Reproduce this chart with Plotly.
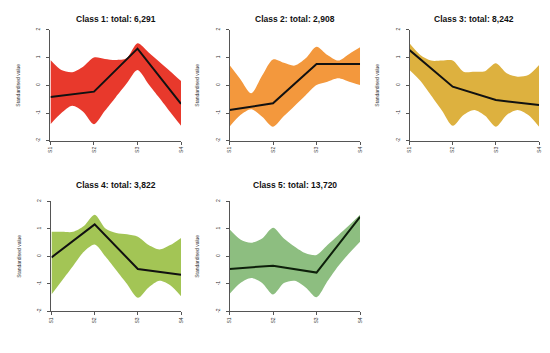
import plotly.graph_objects as go

# Sample labels
samples = ["S1", "S2", "S3", "S4"]
sample_pos = [1, 2, 3, 4]
# Envelope read at quarter steps between samples
env_pos = [1, 1.25, 1.5, 1.75, 2, 2.25, 2.5, 2.75, 3, 3.25, 3.5, 3.75, 4]

titles = ["Class 1: total: 6,291", "Class 2: total: 2,908", "Class 3: total: 8,242",
          "Class 4: total: 3,822", "Class 5: total: 13,720"]

mean_c1 = [-0.42, -0.23, 1.32, -0.67]
upper_c1 = [0.91, 0.55, 0.47, 0.67, 1.0, 0.95, 0.91, 0.97, 1.51, 1.19, 0.85, 0.51, 0.15]
lower_c1 = [-1.40, -1.0, -0.74, -0.95, -1.40, -0.92, -0.43, 0.06, 0.55, 0.05, -0.45, -0.96, -1.46]

mean_c2 = [-0.89, -0.65, 0.77, 0.77]
upper_c2 = [0.73, 0.22, -0.29, 0.35, 0.93, 0.81, 0.71, 0.97, 1.39, 1.09, 0.89, 1.13, 1.37]
lower_c2 = [-1.49, -1.07, -0.86, -1.13, -1.49, -1.11, -0.74, -0.36, 0.01, 0.13, 0.25, 0.13, 0.01]

mean_c3 = [1.27, -0.05, -0.53, -0.71]
upper_c3 = [1.51, 1.09, 0.89, 0.89, 0.89, 0.49, 0.49, 0.51, 0.79, 0.43, 0.31, 0.37, 0.73]
lower_c3 = [0.55, 0.16, -0.37, -0.91, -1.46, -1.07, -0.89, -1.10, -1.49, -1.07, -0.89, -1.07, -1.49]

mean_c4 = [-0.04, 1.16, -0.46, -0.67]
upper_c4 = [0.89, 0.89, 0.89, 1.10, 1.51, 1.01, 0.85, 0.80, 0.71, 0.41, 0.25, 0.41, 0.67]
lower_c4 = [-1.39, -0.87, -0.35, 0.17, 0.43, -0.01, -0.51, -1.01, -1.51, -1.13, -0.89, -1.05, -1.45]

mean_c5 = [-0.46, -0.34, -0.59, 1.43]
upper_c5 = [0.98, 0.61, 0.49, 0.65, 1.04, 0.65, 0.35, 0.11, 0.05, 0.41, 0.77, 1.13, 1.51]
lower_c5 = [-1.37, -0.97, -0.79, -0.97, -1.39, -0.97, -0.89, -1.13, -1.49, -0.91, -0.35, 0.11, 0.53]

means = [mean_c1, mean_c2, mean_c3, mean_c4, mean_c5]
uppers = [upper_c1, upper_c2, upper_c3, upper_c4, upper_c5]
lowers = [lower_c1, lower_c2, lower_c3, lower_c4, lower_c5]
fills = ["#E8392C", "#F3983D", "#DDB13F", "#A3C555", "#8DBE80"]
line_cols = ["#111111", "#111111", "#111111", "#111111", "#0d1f0a"]

W, H = 550, 353
# pixel boxes (left, right, top, bottom, title offset)
boxes = [(48, 180, 28, 140, 11), (229, 361, 28, 140, 11), (411, 542, 28, 140, 11),
         (49, 180, 201, 312, 16), (229, 361, 201, 312, 16)]

fig = go.Figure()
layout = dict(width=W, height=H, margin=dict(l=0, r=0, t=0, b=0),
              paper_bgcolor="white", plot_bgcolor="white", showlegend=False)
annotations = []

for i in range(5):
    xa = "x" if i == 0 else f"x{i+1}"
    ya = "y" if i == 0 else f"y{i+1}"
    fig.add_trace(go.Scatter(x=env_pos, y=lowers[i], mode="lines",
                             line=dict(width=0, shape="spline", smoothing=0.8, color=fills[i]),
                             xaxis=xa, yaxis=ya, hoverinfo="skip"))
    fig.add_trace(go.Scatter(x=env_pos, y=uppers[i], mode="lines", fill="tonexty",
                             fillcolor=fills[i],
                             line=dict(width=0, shape="spline", smoothing=0.8, color=fills[i]),
                             xaxis=xa, yaxis=ya, hoverinfo="skip"))
    fig.add_trace(go.Scatter(x=sample_pos, y=means[i], mode="lines",
                             line=dict(width=2, color=line_cols[i]),
                             xaxis=xa, yaxis=ya))
    l, r, t, b, toff = boxes[i]
    dx = [l / W, r / W]
    dy = [1 - b / H, 1 - t / H]
    axx = dict(domain=dx, range=[1, 4], anchor=ya, showgrid=False, zeroline=False,
               showline=True, linecolor="#555555", linewidth=1,
               tickmode="array", tickvals=sample_pos, ticktext=samples,
               ticks="outside", ticklen=3, tickcolor="#555555", tickangle=-90,
               tickfont=dict(size=5, family="Liberation Sans", color="#333333"))
    axy = dict(domain=dy, range=[-2, 2], anchor=xa, showgrid=False, zeroline=False,
               showline=True, linecolor="#555555", linewidth=1,
               tickmode="array", tickvals=[-2, -1, 0, 1, 2], ticktext=["-2", "-1", "0", "1", "2"],
               ticks="outside", ticklen=3, tickcolor="#555555", tickangle=-90,
               ticklabelstandoff=4,
               tickfont=dict(size=5, family="Liberation Sans", color="#333333"),
               title=dict(text="Standardised value", standoff=14,
                          font=dict(size=5, family="Liberation Sans", color="#333333")))
    key = "" if i == 0 else str(i + 1)
    layout["xaxis" + key] = axx
    layout["yaxis" + key] = axy
    annotations.append(dict(text="<b>" + titles[i] + "</b>", xref="paper", yref="paper",
                            x=(l + r) / 2 / W, y=1 - (t - toff) / H, showarrow=False,
                            xanchor="center", yanchor="middle",
                            font=dict(size=8.5, family="Liberation Sans", color="#111111")))

layout["annotations"] = annotations
fig.update_layout(**layout)
fig.write_html("out.html", config={"displayModeBar": False},
               post_script="document.body.style.margin='0px';")
